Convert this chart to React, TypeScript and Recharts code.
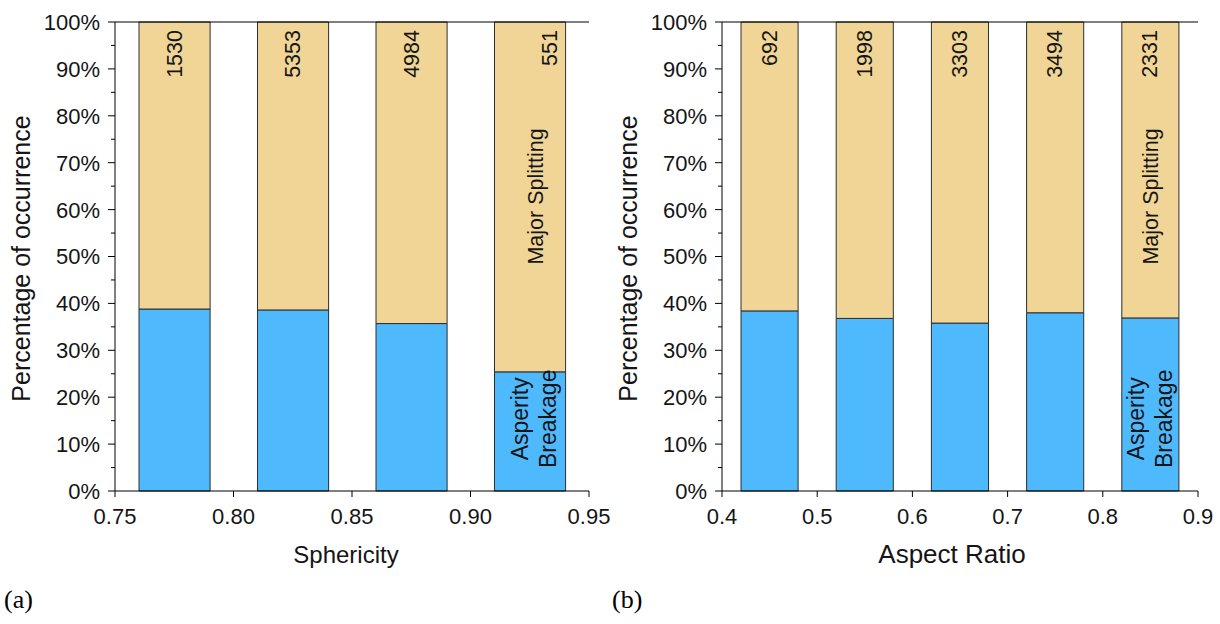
import React from 'react';
import { BarChart, Bar, XAxis, YAxis, ReferenceLine, ReferenceDot, LabelList } from 'recharts';

const FONT = 'Arial, "Liberation Sans", Helvetica, sans-serif';
const SERIF = '"Times New Roman", "Liberation Serif", serif';
const TEXT = '#151515';
const BLUE = '#4FB9FD';
const TAN = '#F1D597';
const EDGE = '#2e2e2e';

// Panel (a): Sphericity
const sphericityBins = [0.775, 0.825, 0.875, 0.925];
const sphericityAsperity = [38.8, 38.6, 35.7, 25.4];
const sphericityMajor = [61.2, 61.4, 64.3, 74.6];
const sphericityCounts = [1530, 5353, 4984, 551];
const sphericityTicks = [0.75, 0.8, 0.85, 0.9, 0.95];
const sphericityBinWidth = 0.03;

// Panel (b): Aspect Ratio
const aspectBins = [0.45, 0.55, 0.65, 0.75, 0.85];
const aspectAsperity = [38.4, 36.8, 35.8, 38.0, 36.9];
const aspectMajor = [61.6, 63.2, 64.2, 62.0, 63.1];
const aspectCounts = [692, 1998, 3303, 3494, 2331];
const aspectTicks = [0.4, 0.5, 0.6, 0.7, 0.8, 0.9];
const aspectBinWidth = 0.06;

const percentTicks = [0, 5, 10, 15, 20, 25, 30, 35, 40, 45, 50, 55, 60, 65, 70, 75, 80, 85, 90, 95, 100];

const MAJOR_LABEL = 'Major Splitting';
const ASPERITY_LINES = ['Asperity', 'Breakage'];
const MAJOR_LABEL_Y = 62.8;
const ASPERITY_LABEL_Y = 15.4;

const PercentTick = (props: any) => {
  const { x, y, payload } = props;
  const v = Number(payload.value);
  const major = v % 10 === 0;
  return (
    <g>
      <line x1={x - (major ? 7 : 4)} x2={x} y1={y} y2={y} stroke="#000" strokeWidth={1} />
      {major && (
        <text x={x - 15} y={y} dy="0.36em" textAnchor="end" fontSize={22} fontFamily={FONT} fill={TEXT}>
          {`${v}%`}
        </text>
      )}
    </g>
  );
};

type PanelProps = {
  left: number;
  width: number;
  yAxisWidth: number;
  rightMargin: number;
  bins: number[];
  binWidth: number;
  asperity: number[];
  major: number[];
  counts: number[];
  ticks: number[];
  domain: [number, number];
  decimals: number;
  xTitle: string;
  xTitleSize: number;
  xTitleDx: number;
  yTitleX: number;
  letter: string;
  letterX: number;
  lastCountDx: number;
  majorDx: number;
  asperityDx: number;
};

function Panel(p: PanelProps) {
  const data = p.bins.map((b, i) => ({
    x: b,
    asperity: p.asperity[i],
    major: p.major[i],
    count: p.counts[i],
  }));
  const n = p.bins.length;
  const lastBin = p.bins[n - 1];
  const plotWidth = p.width - p.yAxisWidth - p.rightMargin;
  const barSize = (plotWidth * p.binWidth) / (p.domain[1] - p.domain[0]);

  const renderCount = (props: any) => {
    const vb = props.viewBox && props.viewBox.width !== undefined ? props.viewBox : props;
    const { x, y, width } = vb;
    const idx = props.index;
    const cx = x + width / 2 + (idx === n - 1 ? p.lastCountDx : 0);
    const ty = y + 8;
    return (
      <text
        x={cx}
        y={ty}
        transform={`rotate(-90 ${cx} ${ty})`}
        textAnchor="end"
        dominantBaseline="central"
        fontSize={21.5}
        fontFamily={FONT}
        fill={TEXT}
      >
        {props.value}
      </text>
    );
  };

  const renderMajor = (props: any) => {
    const vb = props.viewBox;
    const cx = vb.x + (vb.width || 0) / 2 + p.majorDx;
    const cy = vb.y + (vb.height || 0) / 2;
    return (
      <text
        x={cx}
        y={cy}
        transform={`rotate(-90 ${cx} ${cy})`}
        textAnchor="middle"
        dominantBaseline="central"
        fontSize={21.5}
        fontFamily={FONT}
        fill={TEXT}
      >
        {MAJOR_LABEL}
      </text>
    );
  };

  const renderAsperity = (props: any) => {
    const vb = props.viewBox;
    const cx = vb.x + (vb.width || 0) / 2 + p.asperityDx;
    const cy = vb.y + (vb.height || 0) / 2;
    return (
      <g transform={`rotate(-90 ${cx} ${cy})`}>
        {ASPERITY_LINES.map((line, i) => (
          <text
            key={line}
            x={cx}
            y={cy + (i - (ASPERITY_LINES.length - 1) / 2) * 28}
            textAnchor="middle"
            dominantBaseline="central"
            fontSize={23}
            fontFamily={FONT}
            fill={TEXT}
          >
            {line}
          </text>
        ))}
      </g>
    );
  };

  const renderXTitle = (props: any) => {
    const vb = props.viewBox;
    return (
      <text
        x={vb.x + vb.width / 2 + p.xTitleDx}
        y={vb.y + 72}
        textAnchor="middle"
        fontSize={p.xTitleSize}
        fontFamily={FONT}
        fill={TEXT}
      >
        {p.xTitle}
      </text>
    );
  };

  const renderYTitle = (props: any) => {
    const vb = props.viewBox;
    const cy = vb.y + vb.height / 2 + 2;
    const bx = p.yTitleX;
    return (
      <text
        x={bx}
        y={cy}
        transform={`rotate(-90 ${bx} ${cy})`}
        textAnchor="middle"
        fontSize={25}
        fontFamily={FONT}
        fill={TEXT}
      >
        Percentage of occurrence
      </text>
    );
  };

  return (
    <div style={{ position: 'absolute', left: p.left, top: 0, width: p.width, height: 624 }}>
      <BarChart
        width={p.width}
        height={624}
        data={data}
        margin={{ top: 22, right: p.rightMargin, left: 0, bottom: 44 }}
        barGap={0}
      >
        <XAxis
          dataKey="x"
          type="number"
          domain={p.domain}
          allowDataOverflow
          ticks={p.ticks}
          interval={0}
          height={89}
          tickSize={6}
          tickMargin={11}
          stroke="#000"
          tick={{ fontSize: 22, fontFamily: FONT, fill: TEXT }}
          tickFormatter={(v: number) => Number(v).toFixed(p.decimals)}
          label={{ content: renderXTitle }}
        />
        <YAxis
          type="number"
          domain={[0, 100]}
          ticks={percentTicks}
          interval={0}
          width={p.yAxisWidth}
          tickSize={0}
          tickMargin={0}
          tickLine={false}
          stroke="#000"
          tick={(tp: any) => <PercentTick {...tp} />}
          label={{ content: renderYTitle }}
        />
        <Bar
          dataKey="asperity"
          stackId="s"
          barSize={barSize}
          fill={BLUE}
          stroke={EDGE}
          strokeWidth={1}
          isAnimationActive={false}
        />
        <Bar
          dataKey="major"
          stackId="s"
          barSize={barSize}
          fill={TAN}
          stroke={EDGE}
          strokeWidth={1}
          isAnimationActive={false}
        >
          <LabelList dataKey="count" content={renderCount} />
        </Bar>
        <ReferenceLine y={100} stroke="#000" strokeWidth={1} />
        <ReferenceDot
          x={lastBin}
          y={MAJOR_LABEL_Y}
          r={0}
          fill="none"
          stroke="none"
          label={{ content: renderMajor }}
        />
        <ReferenceDot
          x={lastBin}
          y={ASPERITY_LABEL_Y}
          r={0}
          fill="none"
          stroke="none"
          label={{ content: renderAsperity }}
        />
      </BarChart>
      <svg
        width={60}
        height={40}
        style={{ position: 'absolute', left: p.letterX, top: 584 }}
      >
        <text x={0} y={24} fontSize={26} fontFamily={SERIF} fill="#000">
          {p.letter}
        </text>
      </svg>
    </div>
  );
}

export default function App() {
  return (
    <div style={{ position: 'absolute', left: 0, top: 0, width: 1220, height: 624, background: '#fff' }}>
      <Panel
        left={0}
        width={610}
        yAxisWidth={115}
        rightMargin={21}
        bins={sphericityBins}
        binWidth={sphericityBinWidth}
        asperity={sphericityAsperity}
        major={sphericityMajor}
        counts={sphericityCounts}
        ticks={sphericityTicks}
        domain={[0.75, 0.95]}
        decimals={2}
        xTitle="Sphericity"
        xTitleSize={24}
        xTitleDx={-6}
        yTitleX={30}
        letter="(a)"
        letterX={4}
        lastCountDx={20}
        majorDx={6}
        asperityDx={4}
      />
      <Panel
        left={600}
        width={620}
        yAxisWidth={122}
        rightMargin={22}
        bins={aspectBins}
        binWidth={aspectBinWidth}
        asperity={aspectAsperity}
        major={aspectMajor}
        counts={aspectCounts}
        ticks={aspectTicks}
        domain={[0.4, 0.9]}
        decimals={1}
        xTitle="Aspect Ratio"
        xTitleSize={26}
        xTitleDx={-8}
        yTitleX={37}
        letter="(b)"
        letterX={12}
        lastCountDx={0}
        majorDx={1}
        asperityDx={0}
      />
    </div>
  );
}
